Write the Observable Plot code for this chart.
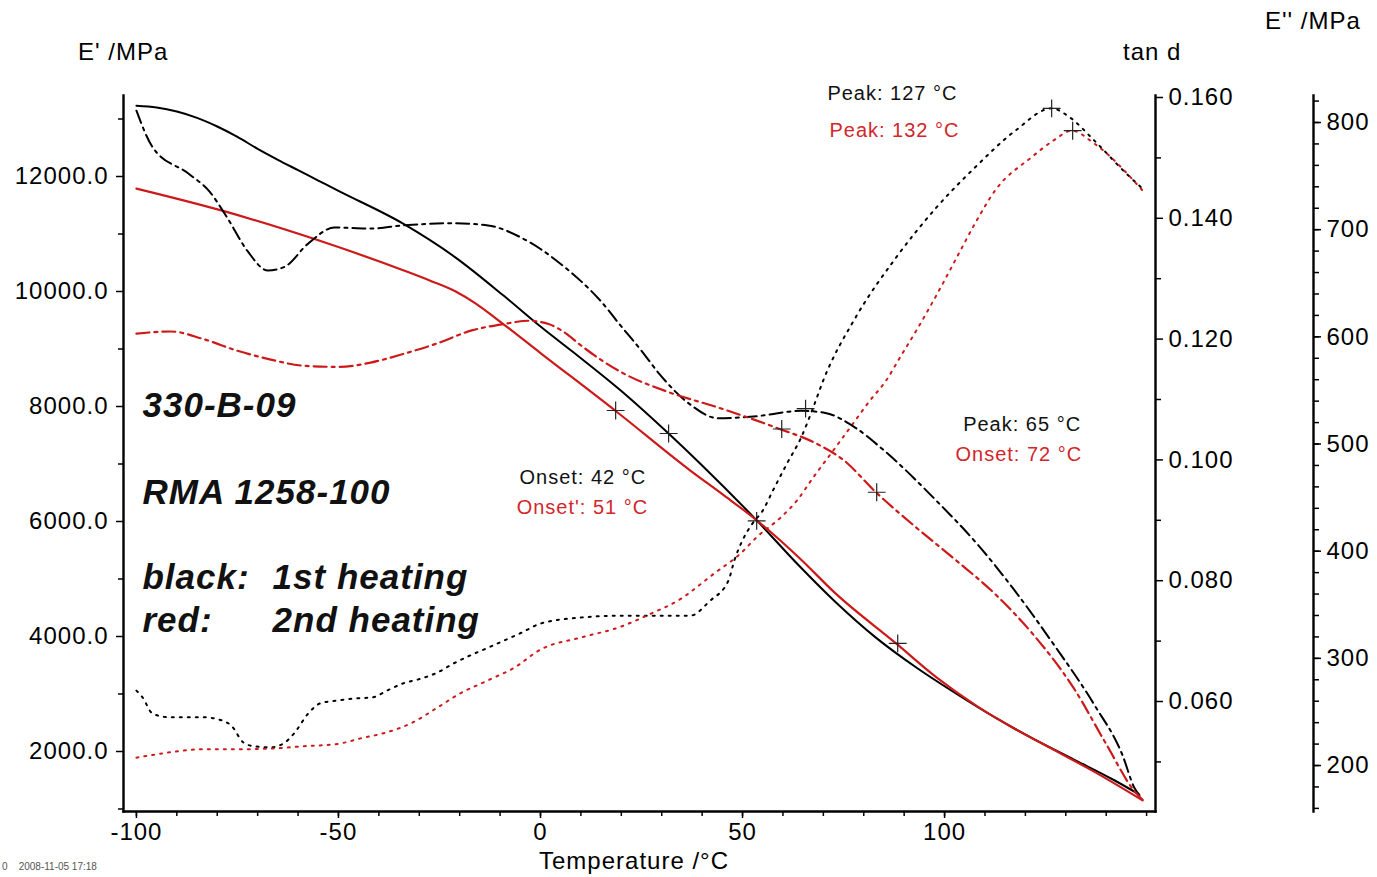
<!DOCTYPE html>
<html>
<head>
<meta charset="utf-8">
<script src="https://cdn.jsdelivr.net/npm/d3@7"></script>
<script src="https://cdn.jsdelivr.net/npm/@observablehq/plot@0.6"></script>
<style>
  body { margin: 0; background: #fff; }
  #wrap { position: relative; width: 1377px; height: 877px; overflow: hidden; background: #fff;
          font-family: "Liberation Sans", Arial, Helvetica, sans-serif; }
  #wrap svg { position: absolute; left: 0; top: 0; overflow: visible; }
  .lbl { position: absolute; font-size: 24px; letter-spacing: 1px; line-height: 1; color: #000; white-space: nowrap; }
  .foot { position: absolute; left: 2px; top: 862px; font-size: 10px; color: #555; white-space: pre; line-height: 1; }
</style>
</head>
<body>
<div id="wrap">
  <div class="lbl" style="left:78px;top:40px">E' /MPa</div>
  <div class="lbl" style="left:1123px;top:40px">tan d</div>
  <div class="lbl" style="left:1265px;top:9px">E'' /MPa</div>
  <div class="lbl" style="left:539px;top:849px">Temperature /°C</div>
  <div class="foot">0    2008-11-05 17:18</div>
</div>
<script>
// ---------- data ----------
// E' storage modulus, 1st heating (black, solid)
const tempE1 = [-100,-95,-90,-85,-80,-75,-70,-65,-60,-55,-50,-34,-21,-9,0,10,20,31.7,40,53.5,64,73,83,93,103,113,122,132,142,148];
const modE1  = [13230,13200,13130,13020,12870,12690,12480,12290,12110,11930,11750,11180,10590,9920,9390,8840,8270,7530,6975,6020,5230,4600,3980,3460,3000,2570,2220,1860,1500,1260];
// E' storage modulus, 2nd heating (red, solid)
const tempE2 = [-100,-79,-55,-34,-27,-21,-16,-11,0,19,37,45,53,64,73,88,98,108,117,127,137,149];
const modE2  = [11790,11410,10890,10370,10180,10000,9790,9530,8930,7900,6890,6475,6050,5370,4750,3880,3290,2790,2410,2030,1650,1150];
// E'' loss modulus, 1st heating (black, dash-dot)
const tempL1 = [-100,-96,-87,-82,-77.5,-72.5,-67.5,-63.5,-57.5,-51,-42,-34,-21.5,-13,-5,0,5,10,15,19.5,25,29.5,37,44,53.5,64.5,70.5,78,85,98,108,117,127,137,144,147,148.5];
const lossL1 = [811,777,752,736,711,680,662,665,687,702,701,704,706,704,693,682,668,652,633,612,587,565,537,524,526,531,529,515,494,447,407,365,313,257,210,179,171];
// E'' loss modulus, 2nd heating (red, dash-dot)
const tempL2 = [-100,-91.5,-83.5,-75,-67,-58.5,-50,-42,-34,-25.5,-17,-9,-3,2,6,10,19.5,32,44,58.5,68.5,75,83,93,103,112.5,122,132,140,147,149];
const lossL2 = [603,605,598,587,579,573,572,576,584,594,606,612,615,612,604,592,568,548,534,515,500,485,455,422,391,360,322,272,220,176,168];
// tan d, 1st heating (black, dotted)
const tempD1 = [-100,-98.5,-96,-92,-83.5,-79,-76.5,-73.5,-71,-67,-63.5,-61,-57.5,-54.5,-50,-46,-41.5,-38,-34,-29.5,-25.5,-21.5,-17.5,-13,-9,-5,0,10,19.5,29.5,37,42,46.5,48,50,52.5,55,57.5,61,64.5,67.5,70,78,88,98,107.5,117.5,126.5,131,137,145,149];
const tandD1 = [0.0618,0.0607,0.0580,0.0574,0.0574,0.0569,0.0560,0.0532,0.0526,0.0524,0.0531,0.0547,0.0580,0.0597,0.0602,0.0605,0.0607,0.0618,0.0630,0.0638,0.0648,0.0663,0.0676,0.0689,0.0701,0.0713,0.0729,0.0739,0.0742,0.0742,0.0742,0.0767,0.0800,0.0834,0.0867,0.0895,0.0916,0.0949,0.0994,0.1037,0.1087,0.1132,0.1236,0.1335,0.1418,0.1484,0.1545,0.1582,0.1567,0.1529,0.1474,0.1449];
// tan d, 2nd heating (red, dotted)
const tempD2 = [-100,-91.5,-83.5,-75,-67,-58.5,-50,-44.5,-38,-32,-25.5,-20,-13,-6.5,0,10,19.5,27.5,34,43,49.5,53.5,59.5,63.5,67.5,72.5,77,81.5,85.5,89,93,99,103,107.5,112.5,121.5,127,131.5,137,149];
const tandD2 = [0.0507,0.0516,0.0521,0.0521,0.0522,0.0526,0.0530,0.0539,0.0549,0.0564,0.0590,0.0613,0.0635,0.0656,0.0686,0.0706,0.0723,0.0746,0.0767,0.0812,0.0845,0.0872,0.0905,0.0933,0.0971,0.1016,0.1057,0.1098,0.1131,0.1170,0.1214,0.1285,0.1335,0.1391,0.1446,0.1501,0.1529,0.1545,0.1524,0.1446];

// evaluation markers (+)
const crossE_T = [18.6, 31.7, 53.5, 88.4];  const crossE_V = [7930, 7530, 6010, 3880];
const crossL_T = [65.6, 59.7, 83.2];        const crossL_V = [533, 514, 455];
const crossD_T = [126.5, 131.7];            const crossD_V = [0.1582, 0.1545];

// tick values / labels
const xMajor = [-100, -50, 0, 50, 100];
const xMinor = d3.range(-100, 151, 10);
const eMajor = [2000, 4000, 6000, 8000, 10000, 12000];
const eMinor = [1000, 3000, 5000, 7000, 9000, 11000, 13000];
const dMajor = [0.06, 0.08, 0.10, 0.12, 0.14, 0.16];
const dMinor = [0.05, 0.07, 0.09, 0.11, 0.13, 0.15];
const lMajor = [200, 300, 400, 500, 600, 700, 800];
const lMinor = d3.range(160, 821, 20);

// annotations (anchored in temperature / E' units)
const bigText  = ["330-B-09", "RMA 1258-100", "black:", "red:", "1st heating", "2nd heating"];
const bigT     = [-98.5, -98.5, -98.5, -98.5, -66.3, -66.3];
const bigE     = [8017, 6496, 5026, 4278, 5026, 4278];
const blackText = ["Peak: 127 °C", "Onset: 42 °C", "Peak: 65 °C"];
const blackT    = [71.0, -5.2, 104.6];
const blackE    = [13435, 6757, 7678];
const redText   = ["Peak: 132 °C", "Onset': 51 °C", "Onset: 72 °C"];
const redT      = [71.5, -5.9, 102.7];
const redE      = [12800, 6235, 7157];

// ---------- layout ----------
const FONT = '"Liberation Sans", Arial, Helvetica, sans-serif';
const RED = "#cc1a1a";
const RED_TEXT = "#d2262b";
const W = 1377, H = 877;
const xDomain = [-103.2, 152.2];
const yE = [956.5, 13408.7];
const yD = [0.04179, 0.16033];
const yL = [157.1, 825.2];

const common = {
  width: W, height: H,
  marginLeft: 123, marginRight: 222, marginTop: 95, marginBottom: 66,
  style: { background: "transparent", fontFamily: FONT, fontSize: "24px", letterSpacing: "1px", overflow: "visible", color: "#000" }
};

const zip = (a, b) => a.map((t, i) => ({ t, v: b[i] }));
const zipText = (txt, a, b) => txt.map((s, i) => ({ s, t: a[i], v: b[i] }));

const DOT = "2,6";
const DASHDOT = "13,5,3,5";
const CROSS = { symbol: "plus", r: 5.8, stroke: "#222", strokeWidth: 1.2 };

// Plot A: E' (left axis, temperature axis)
const plotA = Plot.plot({
  ...common,
  x: { domain: xDomain, label: null },
  y: { domain: yE, label: null },
  marks: [
    Plot.axisY(eMinor, { tickSize: 5, tickFormat: () => "", label: null, strokeWidth: 1.5 }),
    Plot.axisY(eMajor, { tickSize: 7, tickPadding: 8, tickFormat: d => d.toFixed(1), label: null, strokeWidth: 1.5 }),
    Plot.axisX(xMinor, { tickSize: 5, tickFormat: () => "", label: null, strokeWidth: 1.5 }),
    Plot.axisX(xMajor, { tickSize: 7, tickPadding: 4, tickFormat: d => String(d), label: null, strokeWidth: 1.5 }),
    Plot.frame({ anchor: "left", strokeWidth: 2.4 }),
    Plot.frame({ anchor: "bottom", strokeWidth: 2.4 }),
    Plot.line(zip(tempE1, modE1), { x: "t", y: "v", stroke: "#000", strokeWidth: 2, curve: "monotone-x" }),
    Plot.line(zip(tempE2, modE2), { x: "t", y: "v", stroke: RED, strokeWidth: 2.2, curve: "monotone-x" }),
    Plot.dot(zip(crossE_T, crossE_V), { x: "t", y: "v", ...CROSS }),
    Plot.text(zipText(bigText, bigT, bigE), { x: "t", y: "v", text: "s", textAnchor: "start", fontSize: 35, fontWeight: "bold", fontStyle: "italic", fill: "#111" }),
    Plot.text(zipText(blackText, blackT, blackE), { x: "t", y: "v", text: "s", textAnchor: "start", fontSize: 20, fill: "#111" }),
    Plot.text(zipText(redText, redT, redE), { x: "t", y: "v", text: "s", textAnchor: "start", fontSize: 20, fill: RED_TEXT })
  ]
});

// Plot B: tan d (right axis)
const plotB = Plot.plot({
  ...common,
  x: { domain: xDomain, axis: null },
  y: { domain: yD, label: null },
  marks: [
    Plot.axisY(dMinor, { anchor: "right", tickSize: 5, tickFormat: () => "", label: null, strokeWidth: 1.5 }),
    Plot.axisY(dMajor, { anchor: "right", tickSize: 7, tickPadding: 6, tickFormat: d => d.toFixed(3), label: null, strokeWidth: 1.5 }),
    Plot.frame({ anchor: "right", strokeWidth: 2.4 }),
    Plot.line(zip(tempD1, tandD1), { x: "t", y: "v", stroke: "#000", strokeWidth: 2, strokeDasharray: DOT, curve: "monotone-x" }),
    Plot.line(zip(tempD2, tandD2), { x: "t", y: "v", stroke: RED, strokeWidth: 2, strokeDasharray: DOT, curve: "monotone-x" }),
    Plot.dot(zip(crossD_T, crossD_V), { x: "t", y: "v", ...CROSS })
  ]
});

// Plot C: E'' curves
const plotC = Plot.plot({
  ...common,
  x: { domain: xDomain, axis: null },
  y: { domain: yL, axis: null },
  marks: [
    Plot.line(zip(tempL1, lossL1), { x: "t", y: "v", stroke: "#000", strokeWidth: 2, strokeDasharray: DASHDOT, curve: "monotone-x" }),
    Plot.line(zip(tempL2, lossL2), { x: "t", y: "v", stroke: RED, strokeWidth: 2.2, strokeDasharray: DASHDOT, curve: "monotone-x" }),
    Plot.dot(zip(crossL_T, crossL_V), { x: "t", y: "v", ...CROSS })
  ]
});

// Plot D: separate E'' axis at far right
const plotD = Plot.plot({
  ...common,
  marginRight: 64,
  y: { domain: yL, label: null },
  marks: [
    Plot.axisY(lMinor, { anchor: "right", tickSize: 5, tickFormat: () => "", label: null, strokeWidth: 1.5 }),
    Plot.axisY(lMajor, { anchor: "right", tickSize: 7, tickPadding: 6, tickFormat: d => String(d), label: null, strokeWidth: 1.5 }),
    Plot.frame({ anchor: "right", strokeWidth: 2.4 })
  ]
});

const wrap = document.getElementById("wrap");
[plotA, plotB, plotC, plotD].forEach(p => wrap.appendChild(p));
</script>
</body>
</html>
